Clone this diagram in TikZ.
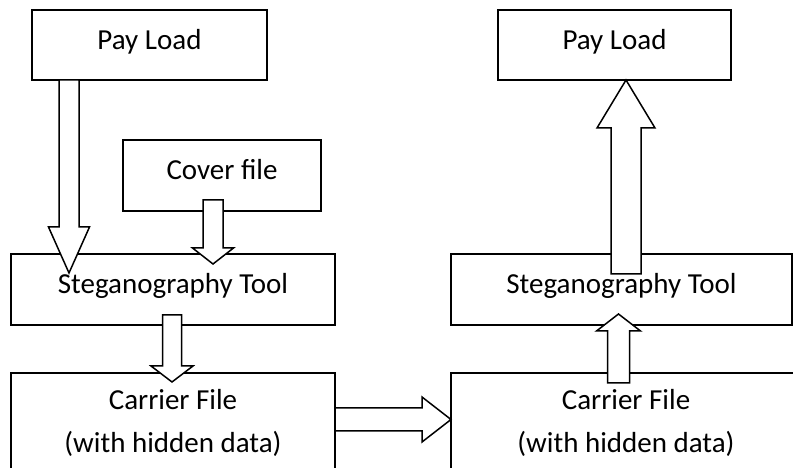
\documentclass[tikz,border=0pt]{standalone}
\usepackage{fontspec}
\setmainfont{Carlito}
\begin{document}
\begin{tikzpicture}[x=1pt,y=1pt,
  box/.style={draw,line width=1.5pt,rectangle,inner sep=0pt,outer sep=0pt},
  lbl/.style={anchor=base,inner sep=0pt,font=\fontsize{29}{35}\selectfont},
  barrow/.style={draw,fill=white,line width=1.5pt,line join=miter}]
\useasboundingbox (0,0) rectangle (793,468);
\clip (0,0) rectangle (793,468);
\newcommand\blockarr[7]{% name, start, angle, length, shaft half, head half, head length
  \coordinate (#1) at (#2);
  \draw[barrow,shift={(#1)},rotate=#3] (0,-#5) -- (#4-#7,-#5) -- (#4-#7,-#6) -- (#4,0) -- (#4-#7,#6) -- (#4-#7,#5) -- (0,#5) -- cycle;}
% boxes
\node[box,minimum width=235pt,minimum height=70pt] (pl1) at (149.5,423) {};
\node[box,minimum width=198pt,minimum height=71pt] (cf) at (222,292.5) {};
\node[box,minimum width=324pt,minimum height=71pt] (st1) at (173,178.5) {};
\node[box,minimum width=324pt,minimum height=107pt] (ca1) at (173,41.5) {};
\node[box,minimum width=233pt,minimum height=70pt] (pl2) at (614.5,423) {};
\node[box,minimum width=341pt,minimum height=71pt] (st2) at (621.5,178.5) {};
\node[box,minimum width=359pt,minimum height=107pt] (ca2) at (630.5,41.5) {};
% block arrows
\blockarr{a1}{69,388}{-90}{193}{10}{20.5}{46}
\blockarr{a2}{213,268}{-90}{64}{10}{20.5}{16}
\blockarr{a3}{172,153}{-90}{67}{9.5}{21}{16}
\blockarr{a4}{335,48.5}{0}{116}{11.5}{22.5}{29}
\blockarr{a5}{626,194}{90}{194}{15}{29}{48}
\blockarr{a6}{618.5,85}{90}{69}{11}{22}{17}
% texts
\node[lbl] (t1) at (149.5,418) {Pay Load};
\node[lbl] (t2) at (222,288) {Cover file};
\node[lbl] (t3) at (173,174) {Steganography Tool};
\node[lbl] (t4) at (173,58) {Carrier File};
\node[lbl] (t5) at (173,15) {(with hidden data)};
\node[lbl] (t6) at (614.5,418) {Pay Load};
\node[lbl] (t7) at (621.5,174) {Steganography Tool};
\node[lbl] (t8) at (626,58) {Carrier File};
\node[lbl] (t9) at (626,15) {(with hidden data)};
\end{tikzpicture}
\end{document}
